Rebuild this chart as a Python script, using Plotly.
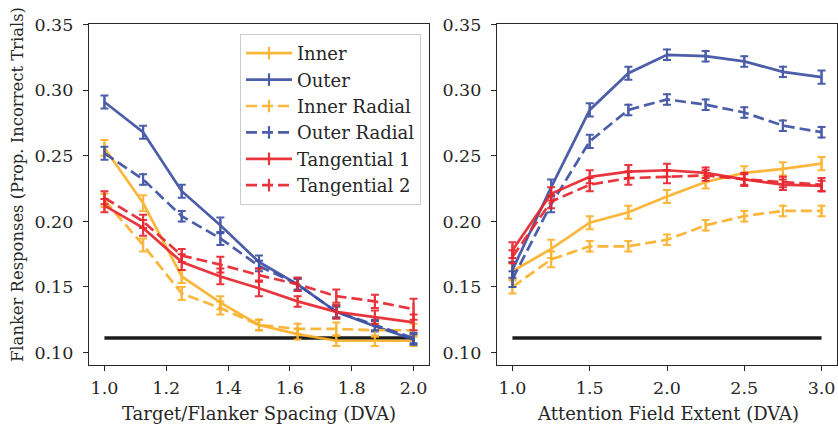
import plotly.graph_objects as go

# ---------------- data ----------------
spacing_x = [1.0, 1.125, 1.25, 1.375, 1.5, 1.625, 1.75, 1.875, 2.0]
extent_x = [1.0, 1.25, 1.5, 1.75, 2.0, 2.25, 2.5, 2.75, 3.0]

series_names = ["Inner", "Outer", "Inner Radial", "Outer Radial", "Tangential 1", "Tangential 2"]

inner_L = [0.256, 0.214, 0.158, 0.138, 0.121, 0.114, 0.109, 0.109, 0.109]
outer_L = [0.291, 0.268, 0.223, 0.197, 0.169, 0.152, 0.131, 0.120, 0.110]
inner_rad_L = [0.216, 0.182, 0.145, 0.134, 0.121, 0.118, 0.118, 0.117, 0.117]
outer_rad_L = [0.252, 0.232, 0.204, 0.187, 0.166, 0.152, 0.131, 0.121, 0.111]
tan1_L = [0.212, 0.195, 0.169, 0.158, 0.149, 0.139, 0.131, 0.127, 0.123]
tan2_L = [0.218, 0.200, 0.174, 0.167, 0.159, 0.152, 0.143, 0.139, 0.133]

inner_L_err = [0.006, 0.006, 0.005, 0.005, 0.004, 0.004, 0.004, 0.004, 0.004]
outer_L_err = [0.005, 0.005, 0.005, 0.006, 0.005, 0.005, 0.005, 0.004, 0.004]
inner_rad_L_err = [0.005, 0.005, 0.005, 0.005, 0.004, 0.004, 0.005, 0.005, 0.005]
outer_rad_L_err = [0.005, 0.004, 0.004, 0.005, 0.004, 0.004, 0.004, 0.004, 0.004]
tan1_L_err = [0.005, 0.006, 0.006, 0.006, 0.006, 0.004, 0.005, 0.005, 0.006]
tan2_L_err = [0.005, 0.005, 0.005, 0.006, 0.005, 0.005, 0.005, 0.005, 0.008]

inner_R = [0.162, 0.179, 0.199, 0.207, 0.219, 0.230, 0.237, 0.240, 0.244]
outer_R = [0.163, 0.226, 0.285, 0.313, 0.327, 0.326, 0.322, 0.314, 0.310]
inner_rad_R = [0.150, 0.171, 0.181, 0.181, 0.186, 0.197, 0.204, 0.208, 0.208]
outer_rad_R = [0.156, 0.213, 0.261, 0.285, 0.293, 0.289, 0.283, 0.273, 0.268]
tan1_R = [0.178, 0.221, 0.234, 0.238, 0.239, 0.237, 0.232, 0.228, 0.227]
tan2_R = [0.173, 0.215, 0.228, 0.233, 0.234, 0.235, 0.232, 0.230, 0.228]

inner_R_err = [0.006, 0.007, 0.005, 0.005, 0.005, 0.005, 0.005, 0.005, 0.005]
outer_R_err = [0.006, 0.006, 0.005, 0.005, 0.004, 0.004, 0.004, 0.004, 0.005]
inner_rad_R_err = [0.005, 0.006, 0.004, 0.004, 0.004, 0.004, 0.004, 0.004, 0.004]
outer_rad_R_err = [0.006, 0.006, 0.005, 0.004, 0.004, 0.004, 0.004, 0.004, 0.004]
tan1_R_err = [0.006, 0.005, 0.005, 0.005, 0.005, 0.004, 0.005, 0.004, 0.004]
tan2_R_err = [0.005, 0.005, 0.005, 0.005, 0.005, 0.004, 0.004, 0.004, 0.005]

chance_level = 0.111

spacing_ticks = [1.0, 1.2, 1.4, 1.6, 1.8, 2.0]
extent_ticks = [1.0, 1.5, 2.0, 2.5, 3.0]
y_ticks = [0.10, 0.15, 0.20, 0.25, 0.30, 0.35]

x_title_left = "Target/Flanker Spacing (DVA)"
x_title_right = "Attention Field Extent (DVA)"
y_title = "Flanker Responses (Prop. Incorrect Trials)"

# ---------------- styles ----------------
ORANGE = "#FBB12C"
BLUE = "#3D51A3"
RED = "#E8262E"
INK = "#262626"
FONT = "DejaVu Serif"
FS = 17.5

styles = [
    (ORANGE, "solid"),
    (BLUE, "solid"),
    (ORANGE, "11px,5px"),
    (BLUE, "11px,5px"),
    (RED, "solid"),
    (RED, "11px,5px"),
]

left_vals = [inner_L, outer_L, inner_rad_L, outer_rad_L, tan1_L, tan2_L]
left_errs = [inner_L_err, outer_L_err, inner_rad_L_err, outer_rad_L_err, tan1_L_err, tan2_L_err]
right_vals = [inner_R, outer_R, inner_rad_R, outer_rad_R, tan1_R, tan2_R]
right_errs = [inner_R_err, outer_R_err, inner_rad_R_err, outer_rad_R_err, tan1_R_err, tan2_R_err]

fig = go.Figure()

# chance lines
fig.add_trace(go.Scatter(x=[spacing_x[0], spacing_x[-1]], y=[chance_level, chance_level],
                         mode="lines", line=dict(color="#1c1c1c", width=3.5),
                         showlegend=False, xaxis="x", yaxis="y", hoverinfo="skip"))
fig.add_trace(go.Scatter(x=[extent_x[0], extent_x[-1]], y=[chance_level, chance_level],
                         mode="lines", line=dict(color="#1c1c1c", width=3.5),
                         showlegend=False, xaxis="x2", yaxis="y2", hoverinfo="skip"))


def marker_for(color):
    # small vertical tick so the legend sample resembles an error-bar glyph
    return dict(symbol="line-ns-open", size=9, line=dict(color=color, width=2.2), color=color)


for i, name in enumerate(series_names):
    color, dash = styles[i]
    fig.add_trace(go.Scatter(
        x=spacing_x, y=left_vals[i], name=name, mode="lines+markers",
        line=dict(color=color, width=2.7, dash=dash), opacity=0.92,
        marker=marker_for(color),
        error_y=dict(type="data", array=left_errs[i], visible=True,
                     color=color, thickness=2, width=4),
        xaxis="x", yaxis="y", legendgroup=name, showlegend=True))
for i, name in enumerate(series_names):
    color, dash = styles[i]
    fig.add_trace(go.Scatter(
        x=extent_x, y=right_vals[i], name=name, mode="lines+markers",
        line=dict(color=color, width=2.7, dash=dash), opacity=0.92,
        marker=marker_for(color),
        error_y=dict(type="data", array=right_errs[i], visible=True,
                     color=color, thickness=2, width=4),
        xaxis="x2", yaxis="y2", legendgroup=name, showlegend=False))

W, H = 838, 431
axis_common = dict(showline=True, linecolor=INK, linewidth=1.25, mirror=True,
                   ticks="outside", ticklen=5, tickwidth=1.25, tickcolor=INK,
                   showgrid=False, zeroline=False, automargin=False,
                   tickfont=dict(family=FONT, size=FS, color=INK))

fig.update_layout(
    width=W, height=H,
    margin=dict(l=0, r=0, t=0, b=0),
    paper_bgcolor="white", plot_bgcolor="white",
    font=dict(family=FONT, size=FS, color=INK),
    xaxis=dict(domain=[89 / W, 429 / W], range=[0.95, 2.05], tickvals=spacing_ticks,
               tickformat=".1f", anchor="y", ticklabelstandoff=2, **axis_common),
    yaxis=dict(domain=[1 - 365 / H, 1 - 24 / H], range=[0.0905, 0.3505], tickvals=y_ticks,
               tickformat=".2f", anchor="x", ticklabelstandoff=6, **axis_common),
    xaxis2=dict(domain=[497 / W, 837 / W], range=[0.9, 3.1], tickvals=extent_ticks,
                tickformat=".1f", anchor="y2", ticklabelstandoff=2, **axis_common),
    yaxis2=dict(domain=[1 - 365 / H, 1 - 24 / H], range=[0.0905, 0.3505], tickvals=y_ticks,
                tickformat=".2f", anchor="x2", ticklabelstandoff=6, **axis_common),
    legend=dict(x=240 / W, y=1 - 34 / H, xanchor="left", yanchor="top",
                bgcolor="rgba(255,255,255,0.85)", bordercolor="#cccccc", borderwidth=1,
                font=dict(family=FONT, size=18, color=INK), itemwidth=46,
                tracegroupgap=0),
    annotations=[
        dict(text=x_title_left, xref="paper", yref="paper", x=259 / W, y=1 - 413 / H,
             xanchor="center", yanchor="middle", showarrow=False,
             font=dict(family=FONT, size=18, color=INK)),
        dict(text=x_title_right, xref="paper", yref="paper", x=668 / W, y=1 - 413 / H,
             xanchor="center", yanchor="middle", showarrow=False,
             font=dict(family=FONT, size=18, color=INK)),
        dict(text=y_title, xref="paper", yref="paper", x=17 / W, y=1 - 185 / H,
             xanchor="center", yanchor="middle", showarrow=False, textangle=-90,
             font=dict(family=FONT, size=16.4, color=INK)),
    ],
)

fig.write_html("out.html", config={"displayModeBar": False},
               post_script="document.body.style.margin='0';document.body.style.overflow='hidden';")
